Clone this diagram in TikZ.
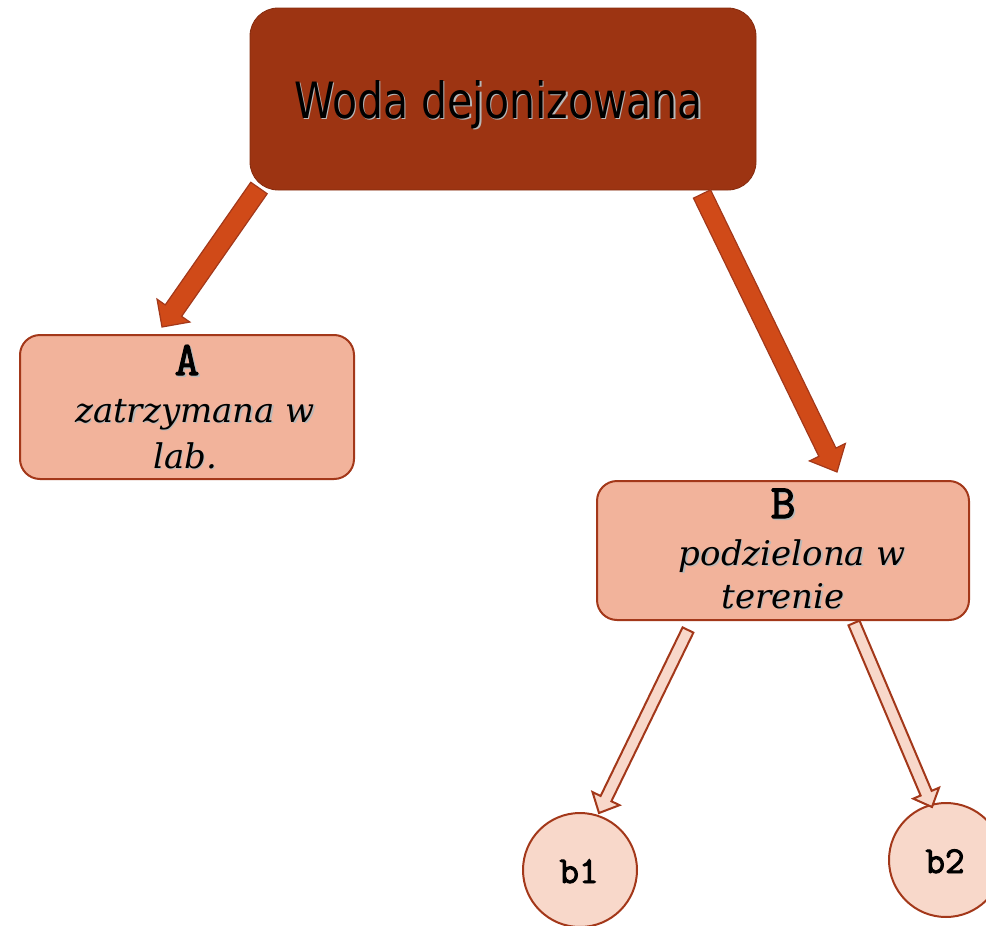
\documentclass[tikz,border=0pt]{standalone}
\usepackage{fontspec}
\usepackage{graphicx}
\usetikzlibrary{calc}
\setmainfont{DejaVu Sans}
\newfontfamily\titlefont{DejaVu Sans}
\newfontfamily\slabfont{DejaVu Serif}
\newfontfamily\typefont{Latin Modern Mono}[FakeBold=2.4]

\definecolor{rootfill}{HTML}{9D3412}
\definecolor{bigarrow}{HTML}{D04A18}
\definecolor{rustline}{HTML}{A3381A}
\definecolor{midfill}{HTML}{F2B39B}
\definecolor{lightfill}{HTML}{F8D8CA}

% block arrow: style, tail, tip, shaft half width, head half width, head length
\newcommand\blockarr[6]{%
  \coordinate (ba-neck) at ($(#3)!#6!(#2)$);
  \draw[#1] ($(#2)!#4!90:(#3)$) -- ($(ba-neck)!#4!-90:(#2)$)
    -- ($(ba-neck)!#5!-90:(#2)$) -- (#3) -- ($(ba-neck)!#5!90:(#2)$)
    -- ($(ba-neck)!#4!90:(#2)$) -- ($(#2)!#4!-90:(#3)$) -- cycle;
}

\tikzset{
  rootbox/.style={fill=rootfill, draw=rootfill!85!black, line width=0.8pt,
    rounded corners=28pt, inner sep=0pt},
  midbox/.style={fill=midfill, draw=rustline, line width=2pt,
    rounded corners=20pt, inner sep=0pt},
  leaf/.style={circle, fill=lightfill, draw=rustline, line width=2pt,
    minimum size=114pt, inner sep=0pt},
  heavyarrow/.style={fill=bigarrow, draw=rustline, line width=1.2pt, line join=miter},
  lightarrow/.style={fill=lightfill, draw=rustline, line width=2pt, line join=miter},
  txt/.style={anchor=base, inner sep=0pt, text=black},
  txtshade/.style={anchor=base, inner sep=0pt, text=black!28},
}

\begin{document}
\begin{tikzpicture}[x=1pt, y=-1pt]
  \useasboundingbox (0,0) rectangle (986,926);

  % boxes
  \node[rootbox, minimum width=506pt, minimum height=182pt] (root) at (503,99) {};
  \node[midbox, minimum width=334pt, minimum height=144pt] (boxA) at (187,407) {};
  \node[midbox, minimum width=372pt, minimum height=139pt] (boxB) at (783,550.5) {};
  \node[leaf] (b1) at (580,870) {};
  \node[leaf] (b2) at (946,860) {};

  % arrow ends
  \coordinate (rA-tail) at (259,188);
  \coordinate (rA-tip)  at (162,327);
  \coordinate (rB-tail) at (702,194);
  \coordinate (rB-tip)  at (837,472);
  \coordinate (B1-tail) at (688,630);
  \coordinate (B1-tip)  at (599,813);
  \coordinate (B2-tail) at (854,623);
  \coordinate (B2-tip)  at (932,807);

  \blockarr{heavyarrow}{rA-tail}{rA-tip}{10pt}{20pt}{20pt}
  \blockarr{heavyarrow}{rB-tail}{rB-tip}{9.5pt}{20pt}{22pt}
  \blockarr{lightarrow}{B1-tail}{B1-tip}{6pt}{15pt}{16pt}
  \blockarr{lightarrow}{B2-tail}{B2-tip}{6pt}{14pt}{15pt}

  % labels
  \newcommand\rootlabel{\titlefont\fontsize{50}{60}\selectfont\scalebox{0.82}[1]{Woda dejonizowana}}
  \node[txtshade] (root-s) at (500,119.5) {\rootlabel};
  \node[txt] (root-t) at (498.5,118) {\rootlabel};

  \newcommand\capfont{\typefont\fontsize{48}{56}\selectfont}
  \newcommand\itfont{\slabfont\itshape\fontsize{34}{40}\selectfont}

  \node[txtshade] (A-s) at (188.5,376.5) {\capfont A};
  \node[txt] (A-t) at (187,375) {\capfont A};
  \node[txtshade] (A2-s) at (196.5,423.5) {\itfont zatrzymana w};
  \node[txt] (A2-t) at (195,422) {\itfont zatrzymana w};
  \node[txtshade] (A3-s) at (186.5,469.5) {\itfont lab.};
  \node[txt] (A3-t) at (185,468) {\itfont lab.};

  \node[txtshade] (B-s) at (784.5,519.5) {\capfont B};
  \node[txt] (B-t) at (783,518) {\capfont B};
  \node[txtshade] (B2-s) at (793.5,566.5) {\itfont podzielona w};
  \node[txt] (B2-t) at (792,565) {\itfont podzielona w};
  \node[txtshade] (B3-s) at (784.5,609.5) {\itfont terenie};
  \node[txt] (B3-t) at (783,608) {\itfont terenie};

  \node[txt] (b1-t) at (579,883) {\typefont\fontsize{38}{44}\selectfont b1};
  \node[txt] (b2-t) at (945,873) {\typefont\fontsize{38}{44}\selectfont b2};
\end{tikzpicture}
\end{document}
